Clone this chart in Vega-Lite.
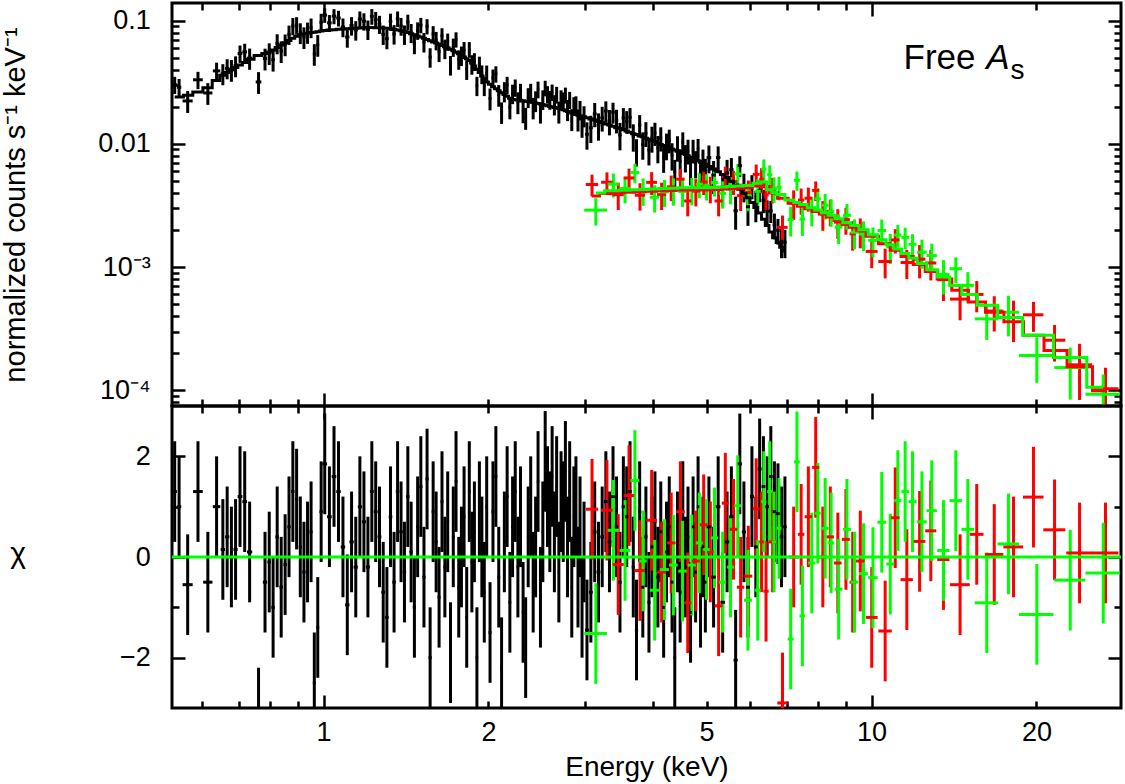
{
  "$schema": "https://vega.github.io/schema/vega-lite/v6.json",
  "background": "white",
  "padding": {"left": 0, "top": 0, "right": 0, "bottom": 0},
  "bounds": "flush",
  "spacing": 0,
  "config": {
    "view": {"stroke": "#000000", "strokeWidth": 3},
    "font": "Liberation Sans",
    "axis": {
      "labelFont": "Liberation Sans", "titleFont": "Liberation Sans",
      "labelColor": "#000000", "titleColor": "#000000", "titleFontWeight": "normal",
      "grid": false, "domain": false, "tickColor": "#000000", "tickWidth": 2.5,
      "labelOverlap": false, "labelFlush": false
    }
  },
  "datasets": {
    "spec": [
      {"s":"pn","e":0.535,"w":0.005,"m":0.024,"r":0.0302,"d":0.0048,"c":1.3},
      {"s":"pn","e":0.545,"w":0.005,"m":0.024,"r":0.0288,"d":0.0048,"c":1.0},
      {"s":"pn","e":0.565,"w":0.012,"m":0.0248,"r":0.0223,"d":0.0045,"c":-0.55},
      {"s":"pn","e":0.59,"w":0.012,"m":0.0263,"r":0.0331,"d":0.0053,"c":1.3},
      {"s":"pn","e":0.615,"w":0.012,"m":0.0285,"r":0.0259,"d":0.0052,"c":-0.5},
      {"s":"pn","e":0.638,"w":0.01,"m":0.0326,"r":0.0391,"d":0.0065,"c":1.0},
      {"s":"pn","e":0.655,"w":0.006,"m":0.036,"r":0.0371,"d":0.0072,"c":0.15},
      {"s":"pn","e":0.667,"w":0.006,"m":0.038,"r":0.041,"d":0.0076,"c":0.4},
      {"s":"pn","e":0.679,"w":0.006,"m":0.0399,"r":0.0399,"d":0.008,"c":0.0},
      {"s":"pn","e":0.691,"w":0.006,"m":0.0417,"r":0.043,"d":0.0083,"c":0.15},
      {"s":"pn","e":0.704,"w":0.007,"m":0.0436,"r":0.0541,"d":0.0087,"c":1.2},
      {"s":"pn","e":0.718,"w":0.007,"m":0.0457,"r":0.0558,"d":0.0091,"c":1.1},
      {"s":"pn","e":0.733,"w":0.008,"m":0.0486,"r":0.0496,"d":0.0097,"c":0.1},
      {"s":"pn","e":0.761,"w":0.009,"m":0.0521,"r":0.0318,"d":0.0064,"c":-3.2},
      {"s":"pn","e":0.782,"w":0.007,"m":0.0542,"r":0.0493,"d":0.0099,"c":-0.5},
      {"s":"pn","e":0.796,"w":0.006,"m":0.0556,"r":0.0545,"d":0.0109,"c":-0.1},
      {"s":"pn","e":0.809,"w":0.006,"m":0.0578,"r":0.0482,"d":0.0096,"c":-1.0},
      {"s":"pn","e":0.823,"w":0.006,"m":0.0606,"r":0.0654,"d":0.0121,"c":0.4},
      {"s":"pn","e":0.837,"w":0.006,"m":0.0634,"r":0.0566,"d":0.0113,"c":-0.6},
      {"s":"pn","e":0.851,"w":0.006,"m":0.0662,"r":0.0643,"d":0.0129,"c":-0.15},
      {"s":"pn","e":0.865,"w":0.006,"m":0.069,"r":0.0773,"d":0.0138,"c":0.6},
      {"s":"pn","e":0.879,"w":0.006,"m":0.0718,"r":0.0905,"d":0.0144,"c":1.3},
      {"s":"pn","e":0.893,"w":0.006,"m":0.0746,"r":0.0918,"d":0.0149,"c":1.15},
      {"s":"pn","e":0.907,"w":0.006,"m":0.0767,"r":0.0798,"d":0.0153,"c":0.2},
      {"s":"pn","e":0.921,"w":0.006,"m":0.0779,"r":0.0735,"d":0.0147,"c":-0.3},
      {"s":"pn","e":0.935,"w":0.006,"m":0.079,"r":0.0806,"d":0.0158,"c":0.1},
      {"s":"pn","e":0.949,"w":0.006,"m":0.08,"r":0.088,"d":0.016,"c":0.5},
      {"s":"pn","e":0.962,"w":0.006,"m":0.0806,"r":0.0537,"d":0.0107,"c":-2.5},
      {"s":"pn","e":0.976,"w":0.006,"m":0.0814,"r":0.0636,"d":0.0127,"c":-1.4},
      {"s":"pn","e":0.99,"w":0.007,"m":0.0823,"r":0.0971,"d":0.0165,"c":0.9},
      {"s":"pn","e":1.005,"w":0.01,"m":0.0832,"r":0.1109,"d":0.015,"c":1.85},
      {"s":"pn","e":1.025,"w":0.01,"m":0.0838,"r":0.0959,"d":0.0151,"c":0.8},
      {"s":"pn","e":1.045,"w":0.01,"m":0.0844,"r":0.1087,"d":0.0152,"c":1.6},
      {"s":"pn","e":1.065,"w":0.01,"m":0.085,"r":0.1049,"d":0.0153,"c":1.3},
      {"s":"pn","e":1.085,"w":0.01,"m":0.0856,"r":0.0887,"d":0.0154,"c":0.2},
      {"s":"pn","e":1.105,"w":0.01,"m":0.0861,"r":0.0735,"d":0.0132,"c":-0.95},
      {"s":"pn","e":1.125,"w":0.01,"m":0.0865,"r":0.0912,"d":0.0156,"c":0.3},
      {"s":"pn","e":1.145,"w":0.01,"m":0.0869,"r":0.0839,"d":0.0151,"c":-0.2},
      {"s":"pn","e":1.165,"w":0.01,"m":0.0873,"r":0.103,"d":0.0157,"c":1.0},
      {"s":"pn","e":1.185,"w":0.01,"m":0.0877,"r":0.0988,"d":0.0158,"c":0.7},
      {"s":"pn","e":1.205,"w":0.01,"m":0.088,"r":0.0849,"d":0.0153,"c":-0.2},
      {"s":"pn","e":1.225,"w":0.01,"m":0.0878,"r":0.1083,"d":0.0158,"c":1.3},
      {"s":"pn","e":1.245,"w":0.01,"m":0.0876,"r":0.1018,"d":0.0158,"c":0.9},
      {"s":"pn","e":1.265,"w":0.01,"m":0.0874,"r":0.0937,"d":0.0157,"c":0.4},
      {"s":"pn","e":1.285,"w":0.01,"m":0.0872,"r":0.0774,"d":0.0139,"c":-0.7},
      {"s":"pn","e":1.305,"w":0.01,"m":0.0869,"r":0.0715,"d":0.0129,"c":-1.2},
      {"s":"pn","e":1.325,"w":0.01,"m":0.0859,"r":0.0983,"d":0.0155,"c":0.8},
      {"s":"pn","e":1.345,"w":0.01,"m":0.0849,"r":0.0779,"d":0.014,"c":-0.5},
      {"s":"pn","e":1.365,"w":0.01,"m":0.0839,"r":0.1035,"d":0.0151,"c":1.3},
      {"s":"pn","e":1.385,"w":0.01,"m":0.0828,"r":0.0903,"d":0.0149,"c":0.5},
      {"s":"pn","e":1.405,"w":0.01,"m":0.0816,"r":0.0774,"d":0.0139,"c":-0.3},
      {"s":"pn","e":1.425,"w":0.01,"m":0.08,"r":0.0973,"d":0.0144,"c":1.2},
      {"s":"pn","e":1.445,"w":0.01,"m":0.0784,"r":0.0798,"d":0.0141,"c":0.1},
      {"s":"pn","e":1.465,"w":0.01,"m":0.0768,"r":0.0651,"d":0.0117,"c":-1.0},
      {"s":"pn","e":1.485,"w":0.01,"m":0.0752,"r":0.0833,"d":0.0135,"c":0.6},
      {"s":"pn","e":1.505,"w":0.01,"m":0.0736,"r":0.0921,"d":0.0132,"c":1.4},
      {"s":"pn","e":1.525,"w":0.01,"m":0.072,"r":0.0672,"d":0.0121,"c":-0.4},
      {"s":"pn","e":1.545,"w":0.01,"m":0.0704,"r":0.09,"d":0.0127,"c":1.55},
      {"s":"pn","e":1.565,"w":0.01,"m":0.0688,"r":0.0506,"d":0.0091,"c":-2.0},
      {"s":"pn","e":1.585,"w":0.01,"m":0.0672,"r":0.0781,"d":0.0121,"c":0.9},
      {"s":"pn","e":1.605,"w":0.01,"m":0.0657,"r":0.0692,"d":0.0118,"c":0.3},
      {"s":"pn","e":1.625,"w":0.01,"m":0.0643,"r":0.0562,"d":0.0101,"c":-0.8},
      {"s":"pn","e":1.645,"w":0.01,"m":0.0629,"r":0.0754,"d":0.0113,"c":1.1},
      {"s":"pn","e":1.665,"w":0.01,"m":0.0615,"r":0.0594,"d":0.0107,"c":-0.2},
      {"s":"pn","e":1.685,"w":0.01,"m":0.0601,"r":0.0677,"d":0.0108,"c":0.7},
      {"s":"pn","e":1.705,"w":0.01,"m":0.0586,"r":0.0437,"d":0.0079,"c":-1.9},
      {"s":"pn","e":1.725,"w":0.01,"m":0.057,"r":0.0611,"d":0.0103,"c":0.4},
      {"s":"pn","e":1.745,"w":0.01,"m":0.0554,"r":0.0704,"d":0.01,"c":1.5},
      {"s":"pn","e":1.765,"w":0.01,"m":0.0538,"r":0.0486,"d":0.0087,"c":-0.6},
      {"s":"pn","e":1.785,"w":0.01,"m":0.0522,"r":0.0522,"d":0.0094,"c":0.0},
      {"s":"pn","e":1.805,"w":0.01,"m":0.0506,"r":0.0579,"d":0.0091,"c":0.8},
      {"s":"pn","e":1.825,"w":0.01,"m":0.049,"r":0.0403,"d":0.0073,"c":-1.2},
      {"s":"pn","e":1.845,"w":0.01,"m":0.0474,"r":0.0585,"d":0.0085,"c":1.3},
      {"s":"pn","e":1.865,"w":0.01,"m":0.0452,"r":0.0444,"d":0.008,"c":-0.1},
      {"s":"pn","e":1.885,"w":0.01,"m":0.0428,"r":0.0467,"d":0.0077,"c":0.5},
      {"s":"pn","e":1.905,"w":0.01,"m":0.0404,"r":0.0297,"d":0.0053,"c":-2.0},
      {"s":"pn","e":1.925,"w":0.01,"m":0.038,"r":0.0442,"d":0.0068,"c":0.9},
      {"s":"pn","e":1.945,"w":0.01,"m":0.0356,"r":0.0369,"d":0.0064,"c":0.2},
      {"s":"pn","e":1.965,"w":0.01,"m":0.0334,"r":0.0297,"d":0.0053,"c":-0.7},
      {"s":"pn","e":1.985,"w":0.01,"m":0.0318,"r":0.0375,"d":0.0057,"c":1.0},
      {"s":"pn","e":2.013,"w":0.0125,"m":0.0304,"r":0.0234,"d":0.0047,"c":-1.5},
      {"s":"pn","e":2.038,"w":0.0125,"m":0.0291,"r":0.0343,"d":0.0058,"c":0.9},
      {"s":"pn","e":2.063,"w":0.0125,"m":0.028,"r":0.037,"d":0.0056,"c":1.6},
      {"s":"pn","e":2.088,"w":0.0125,"m":0.027,"r":0.025,"d":0.005,"c":-0.4},
      {"s":"pn","e":2.113,"w":0.0125,"m":0.026,"r":0.0181,"d":0.0036,"c":-2.2},
      {"s":"pn","e":2.138,"w":0.0125,"m":0.0252,"r":0.0267,"d":0.005,"c":0.3},
      {"s":"pn","e":2.163,"w":0.0125,"m":0.0243,"r":0.0301,"d":0.0049,"c":1.2},
      {"s":"pn","e":2.188,"w":0.0125,"m":0.0234,"r":0.0198,"d":0.004,"c":-0.9},
      {"s":"pn","e":2.213,"w":0.0125,"m":0.0229,"r":0.0256,"d":0.0046,"c":0.6},
      {"s":"pn","e":2.238,"w":0.0125,"m":0.0228,"r":0.0287,"d":0.0046,"c":1.3},
      {"s":"pn","e":2.263,"w":0.0125,"m":0.0227,"r":0.0218,"d":0.0044,"c":-0.2},
      {"s":"pn","e":2.288,"w":0.0125,"m":0.0226,"r":0.0262,"d":0.0045,"c":0.8},
      {"s":"pn","e":2.313,"w":0.0125,"m":0.0224,"r":0.0184,"d":0.0037,"c":-1.1},
      {"s":"pn","e":2.338,"w":0.0125,"m":0.0222,"r":0.0163,"d":0.0033,"c":-1.8},
      {"s":"pn","e":2.363,"w":0.0125,"m":0.0221,"r":0.0239,"d":0.0044,"c":0.4},
      {"s":"pn","e":2.388,"w":0.0125,"m":0.0219,"r":0.0263,"d":0.0044,"c":1.0},
      {"s":"pn","e":2.413,"w":0.0125,"m":0.0217,"r":0.0197,"d":0.0039,"c":-0.5},
      {"s":"pn","e":2.438,"w":0.0125,"m":0.0215,"r":0.0224,"d":0.0043,"c":0.2},
      {"s":"pn","e":2.463,"w":0.0125,"m":0.0213,"r":0.0277,"d":0.0043,"c":1.5},
      {"s":"pn","e":2.488,"w":0.0125,"m":0.0211,"r":0.0182,"d":0.0036,"c":-0.8},
      {"s":"pn","e":2.513,"w":0.0125,"m":0.0209,"r":0.023,"d":0.0042,"c":0.5},
      {"s":"pn","e":2.538,"w":0.0125,"m":0.0206,"r":0.0284,"d":0.0041,"c":1.9},
      {"s":"pn","e":2.563,"w":0.0125,"m":0.0204,"r":0.0253,"d":0.0041,"c":1.2},
      {"s":"pn","e":2.588,"w":0.0125,"m":0.0201,"r":0.0229,"d":0.004,"c":0.7},
      {"s":"pn","e":2.613,"w":0.0125,"m":0.0199,"r":0.0263,"d":0.004,"c":1.6},
      {"s":"pn","e":2.638,"w":0.0125,"m":0.0197,"r":0.0209,"d":0.0039,"c":0.3},
      {"s":"pn","e":2.663,"w":0.0125,"m":0.0196,"r":0.0251,"d":0.0039,"c":1.4},
      {"s":"pn","e":2.688,"w":0.0125,"m":0.0194,"r":0.0183,"d":0.0037,"c":-0.3},
      {"s":"pn","e":2.713,"w":0.0125,"m":0.0192,"r":0.0234,"d":0.0038,"c":1.1},
      {"s":"pn","e":2.738,"w":0.0125,"m":0.0189,"r":0.0223,"d":0.0038,"c":0.9},
      {"s":"pn","e":2.763,"w":0.0125,"m":0.0186,"r":0.0249,"d":0.0037,"c":1.7},
      {"s":"pn","e":2.788,"w":0.0125,"m":0.0183,"r":0.019,"d":0.0037,"c":0.2},
      {"s":"pn","e":2.813,"w":0.0125,"m":0.0181,"r":0.0228,"d":0.0036,"c":1.3},
      {"s":"pn","e":2.838,"w":0.0125,"m":0.0178,"r":0.0159,"d":0.0032,"c":-0.6},
      {"s":"pn","e":2.863,"w":0.0125,"m":0.0176,"r":0.0204,"d":0.0035,"c":0.8},
      {"s":"pn","e":2.888,"w":0.0125,"m":0.0173,"r":0.0208,"d":0.0035,"c":1.0},
      {"s":"pn","e":2.913,"w":0.0125,"m":0.0171,"r":0.0158,"d":0.0032,"c":-0.4},
      {"s":"pn","e":2.938,"w":0.0125,"m":0.0169,"r":0.0189,"d":0.0034,"c":0.6},
      {"s":"pn","e":2.963,"w":0.0125,"m":0.0168,"r":0.014,"d":0.0028,"c":-1.0},
      {"s":"pn","e":2.988,"w":0.0125,"m":0.0166,"r":0.0169,"d":0.0033,"c":0.1},
      {"s":"pn","e":3.025,"w":0.025,"m":0.0163,"r":0.01196,"d":0.00299,"c":-1.45},
      {"s":"pn","e":3.075,"w":0.025,"m":0.0159,"r":0.01353,"d":0.00338,"c":-0.7},
      {"s":"pn","e":3.125,"w":0.025,"m":0.0156,"r":0.01755,"d":0.0039,"c":0.5},
      {"s":"pn","e":3.175,"w":0.025,"m":0.0152,"r":0.01414,"d":0.00353,"c":-0.3},
      {"s":"pn","e":3.225,"w":0.025,"m":0.0148,"r":0.01628,"d":0.0037,"c":0.4},
      {"s":"pn","e":3.275,"w":0.025,"m":0.0145,"r":0.01849,"d":0.00363,"c":1.1},
      {"s":"pn","e":3.325,"w":0.025,"m":0.0142,"r":0.01527,"d":0.00355,"c":0.3},
      {"s":"pn","e":3.375,"w":0.025,"m":0.0139,"r":0.01807,"d":0.00348,"c":1.2},
      {"s":"pn","e":3.425,"w":0.025,"m":0.0135,"r":0.01553,"d":0.00338,"c":0.6},
      {"s":"pn","e":3.475,"w":0.025,"m":0.0133,"r":0.01182,"d":0.00296,"c":-0.5},
      {"s":"pn","e":3.525,"w":0.025,"m":0.013,"r":0.01625,"d":0.00325,"c":1.0},
      {"s":"pn","e":3.575,"w":0.025,"m":0.0127,"r":0.01524,"d":0.00318,"c":0.8},
      {"s":"pn","e":3.625,"w":0.025,"m":0.0124,"r":0.01643,"d":0.0031,"c":1.3},
      {"s":"pn","e":3.675,"w":0.025,"m":0.0121,"r":0.01152,"d":0.00288,"c":-0.2},
      {"s":"pn","e":3.725,"w":0.025,"m":0.0119,"r":0.00873,"d":0.00218,"c":-1.45},
      {"s":"pn","e":3.775,"w":0.025,"m":0.0116,"r":0.01421,"d":0.0029,"c":0.9},
      {"s":"pn","e":3.825,"w":0.025,"m":0.0114,"r":0.00991,"d":0.00248,"c":-0.6},
      {"s":"pn","e":3.875,"w":0.025,"m":0.0111,"r":0.01221,"d":0.00278,"c":0.4},
      {"s":"pn","e":3.925,"w":0.025,"m":0.0109,"r":0.0089,"d":0.00222,"c":-0.9},
      {"s":"pn","e":3.975,"w":0.025,"m":0.0106,"r":0.01113,"d":0.00265,"c":0.2},
      {"s":"pn","e":4.025,"w":0.025,"m":0.0104,"r":0.01222,"d":0.0026,"c":0.7},
      {"s":"pn","e":4.075,"w":0.025,"m":0.0102,"r":0.00927,"d":0.00232,"c":-0.4},
      {"s":"pn","e":4.125,"w":0.025,"m":0.0099,"r":0.01114,"d":0.00248,"c":0.5},
      {"s":"pn","e":4.175,"w":0.025,"m":0.0097,"r":0.00776,"d":0.00194,"c":-1.0},
      {"s":"pn","e":4.225,"w":0.025,"m":0.0095,"r":0.00974,"d":0.00238,"c":0.1},
      {"s":"pn","e":4.275,"w":0.025,"m":0.0093,"r":0.0107,"d":0.00233,"c":0.6},
      {"s":"pn","e":4.325,"w":0.025,"m":0.0091,"r":0.00809,"d":0.00202,"c":-0.5},
      {"s":"pn","e":4.375,"w":0.025,"m":0.0089,"r":0.00593,"d":0.00148,"c":-2.0},
      {"s":"pn","e":4.425,"w":0.025,"m":0.0087,"r":0.00935,"d":0.00218,"c":0.3},
      {"s":"pn","e":4.475,"w":0.025,"m":0.0085,"r":0.00723,"d":0.00181,"c":-0.7},
      {"s":"pn","e":4.525,"w":0.025,"m":0.0084,"r":0.01029,"d":0.0021,"c":0.9},
      {"s":"pn","e":4.575,"w":0.025,"m":0.0082,"r":0.00781,"d":0.00195,"c":-0.2},
      {"s":"pn","e":4.625,"w":0.025,"m":0.008,"r":0.0088,"d":0.002,"c":0.4},
      {"s":"pn","e":4.675,"w":0.025,"m":0.0078,"r":0.00612,"d":0.00153,"c":-1.1},
      {"s":"pn","e":4.725,"w":0.025,"m":0.0077,"r":0.00886,"d":0.00193,"c":0.6},
      {"s":"pn","e":4.775,"w":0.025,"m":0.0075,"r":0.00698,"d":0.00174,"c":-0.3},
      {"s":"pn","e":4.825,"w":0.025,"m":0.0073,"r":0.00913,"d":0.00183,"c":1.0},
      {"s":"pn","e":4.875,"w":0.025,"m":0.0071,"r":0.00592,"d":0.00148,"c":-0.8},
      {"s":"pn","e":4.925,"w":0.025,"m":0.0069,"r":0.00725,"d":0.00173,"c":0.2},
      {"s":"pn","e":4.975,"w":0.025,"m":0.0068,"r":0.00604,"d":0.00151,"c":-0.5},
      {"s":"pn","e":5.05,"w":0.05,"m":0.00655,"r":0.00773,"d":0.00197,"c":0.6},
      {"s":"pn","e":5.15,"w":0.05,"m":0.00625,"r":0.00558,"d":0.00167,"c":-0.4},
      {"s":"pn","e":5.25,"w":0.05,"m":0.00595,"r":0.00774,"d":0.00179,"c":1.0},
      {"s":"pn","e":5.35,"w":0.05,"m":0.00565,"r":0.00445,"d":0.00134,"c":-0.9},
      {"s":"pn","e":5.45,"w":0.05,"m":0.00533,"r":0.00581,"d":0.0016,"c":0.3},
      {"s":"pn","e":5.55,"w":0.05,"m":0.00498,"r":0.00618,"d":0.00149,"c":0.8},
      {"s":"pn","e":5.65,"w":0.05,"m":0.00463,"r":0.00287,"d":0.00086,"c":-2.05},
      {"s":"pn","e":5.75,"w":0.05,"m":0.00428,"r":0.00666,"d":0.00128,"c":1.85},
      {"s":"pn","e":5.85,"w":0.05,"m":0.00395,"r":0.00454,"d":0.00119,"c":0.5},
      {"s":"pn","e":5.95,"w":0.05,"m":0.00365,"r":0.00309,"d":0.00093,"c":-0.6},
      {"s":"pn","e":6.05,"w":0.05,"m":0.00335,"r":0.00456,"d":0.00101,"c":1.2},
      {"s":"pn","e":6.15,"w":0.05,"m":0.00305,"r":0.00323,"d":0.00092,"c":0.2},
      {"s":"pn","e":6.25,"w":0.05,"m":0.00275,"r":0.00419,"d":0.00083,"c":1.75},
      {"s":"pn","e":6.35,"w":0.05,"m":0.00245,"r":0.00348,"d":0.00074,"c":1.4},
      {"s":"pn","e":6.45,"w":0.05,"m":0.00218,"r":0.00283,"d":0.00065,"c":1.0},
      {"s":"pn","e":6.55,"w":0.05,"m":0.00193,"r":0.00286,"d":0.00058,"c":1.6},
      {"s":"pn","e":6.65,"w":0.05,"m":0.00173,"r":0.0022,"d":0.00052,"c":0.9},
      {"s":"pn","e":6.75,"w":0.05,"m":0.00158,"r":0.00199,"d":0.00047,"c":0.86},
      {"s":"pn","e":6.85,"w":0.05,"m":0.00145,"r":0.00162,"d":0.00044,"c":0.4},
      {"s":"pn","e":6.95,"w":0.05,"m":0.00135,"r":0.00159,"d":0.00041,"c":0.6},
      {"s":"A","e":3.09,"w":0.08,"m":0.00378,"r":0.00468,"d":0.000945,"c":0.95},
      {"s":"A","e":3.29,"w":0.08,"m":0.00396,"r":0.00488,"d":0.00099,"c":0.93},
      {"s":"A","e":3.45,"w":0.08,"m":0.00402,"r":0.00387,"d":0.00097,"c":-0.15},
      {"s":"A","e":3.61,"w":0.08,"m":0.00405,"r":0.00529,"d":0.00101,"c":1.22},
      {"s":"A","e":3.78,"w":0.08,"m":0.00409,"r":0.00383,"d":0.00096,"c":-0.27},
      {"s":"A","e":3.97,"w":0.09,"m":0.00412,"r":0.00487,"d":0.00103,"c":0.73},
      {"s":"A","e":4.14,"w":0.08,"m":0.00416,"r":0.00387,"d":0.00097,"c":-0.3},
      {"s":"A","e":4.31,"w":0.08,"m":0.00419,"r":0.00448,"d":0.00105,"c":0.28},
      {"s":"A","e":4.48,"w":0.08,"m":0.00422,"r":0.00517,"d":0.00106,"c":0.9},
      {"s":"A","e":4.62,"w":0.07,"m":0.00422,"r":0.00344,"d":0.00086,"c":-0.91},
      {"s":"A","e":4.78,"w":0.08,"m":0.00422,"r":0.00414,"d":0.00103,"c":-0.08},
      {"s":"A","e":4.94,"w":0.08,"m":0.00422,"r":0.0049,"d":0.00106,"c":0.64},
      {"s":"A","e":5.08,"w":0.07,"m":0.00424,"r":0.00435,"d":0.00106,"c":0.1},
      {"s":"A","e":5.26,"w":0.09,"m":0.00427,"r":0.00344,"d":0.00086,"c":-0.97},
      {"s":"A","e":5.41,"w":0.08,"m":0.0043,"r":0.00545,"d":0.00108,"c":1.07},
      {"s":"A","e":5.6,"w":0.09,"m":0.00434,"r":0.00494,"d":0.00109,"c":0.55},
      {"s":"A","e":5.77,"w":0.09,"m":0.00437,"r":0.0038,"d":0.00095,"c":-0.6},
      {"s":"A","e":5.96,"w":0.1,"m":0.00441,"r":0.00403,"d":0.00101,"c":-0.38},
      {"s":"A","e":6.16,"w":0.09,"m":0.00456,"r":0.00565,"d":0.00114,"c":0.96},
      {"s":"A","e":6.3,"w":0.06,"m":0.0048,"r":0.00516,"d":0.0012,"c":0.3},
      {"s":"A","e":6.42,"w":0.07,"m":0.00451,"r":0.00385,"d":0.00096,"c":-0.68},
      {"s":"A","e":6.6,"w":0.11,"m":0.00399,"r":0.00429,"d":0.001,"c":0.3},
      {"s":"A","e":6.88,"w":0.15,"m":0.00362,"r":0.0021,"d":0.00052,"c":-2.9},
      {"s":"A","e":7.21,"w":0.15,"m":0.0033,"r":0.0033,"d":0.00089,"c":0.0},
      {"s":"A","e":7.44,"w":0.1,"m":0.00312,"r":0.0035,"d":0.00084,"c":0.45},
      {"s":"A","e":7.67,"w":0.12,"m":0.00298,"r":0.00362,"d":0.0008,"c":0.8},
      {"s":"A","e":7.91,"w":0.12,"m":0.00283,"r":0.00419,"d":0.00076,"c":1.78},
      {"s":"A","e":8.15,"w":0.12,"m":0.0027,"r":0.0027,"d":0.00073,"c":0.0},
      {"s":"A","e":8.41,"w":0.13,"m":0.00255,"r":0.00283,"d":0.00069,"c":0.4},
      {"s":"A","e":8.68,"w":0.14,"m":0.00239,"r":0.00232,"d":0.00063,"c":-0.12},
      {"s":"A","e":8.98,"w":0.15,"m":0.00222,"r":0.00243,"d":0.0006,"c":0.35},
      {"s":"A","e":9.24,"w":0.12,"m":0.00211,"r":0.00186,"d":0.0005,"c":-0.5},
      {"s":"A","e":9.54,"w":0.17,"m":0.00199,"r":0.00195,"d":0.00053,"c":-0.08},
      {"s":"A","e":10.01,"w":0.25,"m":0.00178,"r":0.00134,"d":0.00036,"c":-1.2},
      {"s":"A","e":10.59,"w":0.3,"m":0.00155,"r":0.00111,"d":0.0003,"c":-1.47},
      {"s":"A","e":11.05,"w":0.2,"m":0.00137,"r":0.00166,"d":0.00037,"c":0.78},
      {"s":"A","e":11.6,"w":0.3,"m":0.00122,"r":0.00109,"d":0.00029,"c":-0.45},
      {"s":"A","e":12.24,"w":0.3,"m":0.00105,"r":0.00116,"d":0.00035,"c":0.31},
      {"s":"A","e":12.83,"w":0.3,"m":0.00092,"r":0.00108,"d":0.0003,"c":0.52},
      {"s":"A","e":13.53,"w":0.35,"m":0.0008,"r":0.00079,"d":0.00026,"c":-0.05},
      {"s":"A","e":14.51,"w":0.6,"m":0.00065,"r":0.00055,"d":0.00018,"c":-0.55},
      {"s":"A","e":15.56,"w":0.45,"m":0.00052,"r":0.0006,"d":0.00017,"c":0.45},
      {"s":"A","e":16.75,"w":0.65,"m":0.00043,"r":0.00044,"d":0.00014,"c":0.05},
      {"s":"A","e":18.16,"w":0.75,"m":0.00036,"r":0.00039,"d":0.000144,"c":0.2},
      {"s":"A","e":19.75,"w":0.85,"m":0.00028,"r":0.00041,"d":0.000112,"c":1.19},
      {"s":"A","e":21.58,"w":1.0,"m":0.00021,"r":0.000255,"d":0.000084,"c":0.54},
      {"s":"A","e":23.97,"w":1.3,"m":0.000155,"r":0.000161,"d":0.0000775,"c":0.08},
      {"s":"A","e":26.73,"w":1.5,"m":0.000099,"r":0.000103,"d":0.0000495,"c":0.08},
      {"s":"B","e":3.14,"w":0.15,"m":0.004,"r":0.0029,"d":0.000725,"c":-1.52},
      {"s":"B","e":3.38,"w":0.08,"m":0.00416,"r":0.00471,"d":0.00104,"c":0.53},
      {"s":"B","e":3.55,"w":0.08,"m":0.0042,"r":0.00434,"d":0.00105,"c":0.13},
      {"s":"B","e":3.7,"w":0.07,"m":0.00424,"r":0.00585,"d":0.00106,"c":1.52},
      {"s":"B","e":3.83,"w":0.06,"m":0.00427,"r":0.00419,"d":0.00105,"c":-0.08},
      {"s":"B","e":4.02,"w":0.08,"m":0.0043,"r":0.00369,"d":0.00092,"c":-0.66},
      {"s":"B","e":4.19,"w":0.08,"m":0.00434,"r":0.00408,"d":0.00102,"c":-0.25},
      {"s":"B","e":4.35,"w":0.08,"m":0.00437,"r":0.0042,"d":0.00105,"c":-0.16},
      {"s":"B","e":4.52,"w":0.08,"m":0.0044,"r":0.00411,"d":0.00103,"c":-0.28},
      {"s":"B","e":4.7,"w":0.08,"m":0.0044,"r":0.00423,"d":0.00106,"c":-0.16},
      {"s":"B","e":4.85,"w":0.07,"m":0.0044,"r":0.00471,"d":0.0011,"c":0.28},
      {"s":"B","e":5.0,"w":0.07,"m":0.0044,"r":0.00457,"d":0.0011,"c":0.15},
      {"s":"B","e":5.17,"w":0.08,"m":0.00443,"r":0.00485,"d":0.00111,"c":0.38},
      {"s":"B","e":5.35,"w":0.08,"m":0.00447,"r":0.00397,"d":0.00099,"c":-0.5},
      {"s":"B","e":5.53,"w":0.08,"m":0.00451,"r":0.0043,"d":0.00107,"c":-0.2},
      {"s":"B","e":5.7,"w":0.08,"m":0.00454,"r":0.0057,"d":0.00114,"c":1.02},
      {"s":"B","e":5.95,"w":0.1,"m":0.00459,"r":0.00378,"d":0.00094,"c":-0.86},
      {"s":"B","e":6.2,"w":0.08,"m":0.0048,"r":0.00412,"d":0.00103,"c":-0.66},
      {"s":"B","e":6.36,"w":0.07,"m":0.0049,"r":0.00625,"d":0.00123,"c":1.1},
      {"s":"B","e":6.52,"w":0.07,"m":0.00425,"r":0.00563,"d":0.00106,"c":1.3},
      {"s":"B","e":6.64,"w":0.06,"m":0.00403,"r":0.00433,"d":0.00101,"c":0.3},
      {"s":"B","e":6.78,"w":0.07,"m":0.00389,"r":0.00444,"d":0.00097,"c":0.57},
      {"s":"B","e":7.12,"w":0.09,"m":0.0035,"r":0.00243,"d":0.00066,"c":-1.63},
      {"s":"B","e":7.31,"w":0.09,"m":0.00335,"r":0.00506,"d":0.0009,"c":1.89},
      {"s":"B","e":7.48,"w":0.09,"m":0.00322,"r":0.00245,"d":0.00066,"c":-1.17},
      {"s":"B","e":7.78,"w":0.12,"m":0.00303,"r":0.00293,"d":0.00079,"c":-0.12},
      {"s":"B","e":7.98,"w":0.1,"m":0.00291,"r":0.00359,"d":0.00079,"c":0.87},
      {"s":"B","e":8.23,"w":0.12,"m":0.00276,"r":0.00318,"d":0.00075,"c":0.57},
      {"s":"B","e":8.44,"w":0.11,"m":0.00264,"r":0.00284,"d":0.00071,"c":0.28},
      {"s":"B","e":8.71,"w":0.14,"m":0.00247,"r":0.00211,"d":0.00057,"c":-0.64},
      {"s":"B","e":9.02,"w":0.15,"m":0.00229,"r":0.00263,"d":0.00062,"c":0.55},
      {"s":"B","e":9.31,"w":0.15,"m":0.00218,"r":0.00192,"d":0.00052,"c":-0.5},
      {"s":"B","e":9.67,"w":0.18,"m":0.00201,"r":0.00185,"d":0.0005,"c":-0.33},
      {"s":"B","e":10.06,"w":0.2,"m":0.00183,"r":0.00165,"d":0.00045,"c":-0.41},
      {"s":"B","e":10.44,"w":0.19,"m":0.00167,"r":0.00198,"d":0.00045,"c":0.69},
      {"s":"B","e":10.82,"w":0.18,"m":0.00152,"r":0.00146,"d":0.0004,"c":-0.14},
      {"s":"B","e":11.17,"w":0.17,"m":0.0014,"r":0.00182,"d":0.00038,"c":1.12},
      {"s":"B","e":11.52,"w":0.18,"m":0.00129,"r":0.00174,"d":0.00035,"c":1.3},
      {"s":"B","e":11.88,"w":0.2,"m":0.00118,"r":0.00153,"d":0.00032,"c":1.1},
      {"s":"B","e":12.36,"w":0.25,"m":0.00107,"r":0.00132,"d":0.00035,"c":0.7},
      {"s":"B","e":12.88,"w":0.28,"m":0.00095,"r":0.00124,"d":0.00031,"c":0.92},
      {"s":"B","e":13.53,"w":0.35,"m":0.00083,"r":0.00087,"d":0.00027,"c":0.13},
      {"s":"B","e":14.25,"w":0.37,"m":0.00071,"r":0.00097,"d":0.00023,"c":1.12},
      {"s":"B","e":14.99,"w":0.4,"m":0.0006,"r":0.00071,"d":0.0002,"c":0.55},
      {"s":"B","e":16.23,"w":0.8,"m":0.00049,"r":0.00038,"d":0.000124,"c":-0.91},
      {"s":"B","e":17.78,"w":0.8,"m":0.00039,"r":0.00043,"d":0.000156,"c":0.26},
      {"s":"B","e":20.03,"w":1.45,"m":0.00028,"r":0.000192,"d":0.000077,"c":-1.14},
      {"s":"B","e":23.05,"w":1.5,"m":0.000185,"r":0.000153,"d":0.000069,"c":-0.46},
      {"s":"B","e":26.48,"w":1.9,"m":0.000106,"r":0.0000927,"d":0.0000417,"c":-0.32}
    ]
  },
  "vconcat": [
    {
      "width": 949,
      "height": 403,
      "data": {"name": "spec"},
      "resolve": {"axis": {"x": "independent", "y": "independent"}},
      "layer": [
        {
          "data": {"values": [{"e": 1, "v": 0.01}]},
          "mark": {"type": "point", "opacity": 0},
          "encoding": {
            "x": {"field": "e", "type": "quantitative", "scale": {"type": "log", "domain": [0.529, 28.53], "nice": false},
                  "axis": {"orient": "bottom", "values": [1, 10], "tickSize": -13, "labels": false, "title": null}},
            "y": {"field": "v", "type": "quantitative", "scale": {"type": "log", "domain": [0.0000746, 0.139], "nice": false},
                  "axis": {"orient": "left", "values": [0.0001, 0.001, 0.01, 0.1], "tickSize": -13, "labels": false, "title": null}}
          }
        },
        {
          "data": {"values": [{"e": 1, "v": 0.01}]},
          "mark": {"type": "point", "opacity": 0},
          "encoding": {
            "x": {"field": "e", "type": "quantitative", "scale": {"type": "log", "domain": [0.529, 28.53], "nice": false},
                  "axis": {"orient": "bottom", "values": [0.6, 0.7, 0.8, 0.9, 2, 3, 4, 5, 6, 7, 8, 9, 20], "tickSize": -7, "labels": false, "title": null}},
            "y": {"field": "v", "type": "quantitative", "scale": {"type": "log", "domain": [0.0000746, 0.139], "nice": false},
                  "axis": {"orient": "left", "values": [0.00008, 0.00009, 0.0002, 0.0003, 0.0004, 0.0005, 0.0006, 0.0007, 0.0008, 0.0009, 0.002, 0.003, 0.004, 0.005, 0.006, 0.007, 0.008, 0.009, 0.02, 0.03, 0.04, 0.05, 0.06, 0.07, 0.08, 0.09], "tickSize": -7, "labels": false, "title": null}}
          }
        },
        {
          "data": {"values": [{"e": 1, "v": 0.01}]},
          "mark": {"type": "point", "opacity": 0},
          "encoding": {
            "x": {"field": "e", "type": "quantitative", "scale": {"type": "log", "domain": [0.529, 28.53], "nice": false},
                  "axis": {"orient": "top", "values": [1, 10], "tickSize": -13, "labels": false, "title": null}},
            "y": {"field": "v", "type": "quantitative", "scale": {"type": "log", "domain": [0.0000746, 0.139], "nice": false},
                  "axis": {"orient": "right", "values": [0.0001, 0.001, 0.01, 0.1], "tickSize": -13, "labels": false, "title": null}}
          }
        },
        {
          "data": {"values": [{"e": 1, "v": 0.01}]},
          "mark": {"type": "point", "opacity": 0},
          "encoding": {
            "x": {"field": "e", "type": "quantitative", "scale": {"type": "log", "domain": [0.529, 28.53], "nice": false},
                  "axis": {"orient": "top", "values": [0.6, 0.7, 0.8, 0.9, 2, 3, 4, 5, 6, 7, 8, 9, 20], "tickSize": -7, "labels": false, "title": null}},
            "y": {"field": "v", "type": "quantitative", "scale": {"type": "log", "domain": [0.0000746, 0.139], "nice": false},
                  "axis": {"orient": "right", "values": [0.00008, 0.00009, 0.0002, 0.0003, 0.0004, 0.0005, 0.0006, 0.0007, 0.0008, 0.0009, 0.002, 0.003, 0.004, 0.005, 0.006, 0.007, 0.008, 0.009, 0.02, 0.03, 0.04, 0.05, 0.06, 0.07, 0.08, 0.09], "tickSize": -7, "labels": false, "title": null}}
          }
        },
        {
          "data": {"values": [{"e": 1, "v": 0.01}]},
          "mark": {"type": "point", "opacity": 0},
          "encoding": {
            "x": {"field": "e", "type": "quantitative", "scale": {"type": "log", "domain": [0.529, 28.53], "nice": false}, "axis": null},
            "y": {"field": "v", "type": "quantitative", "scale": {"type": "log", "domain": [0.0000746, 0.139], "nice": false},
                  "axis": {"orient": "left", "values": [0.0001, 0.001, 0.01, 0.1], "ticks": false, "labels": true,
                           "labelFontSize": 27, "labelPadding": 21.8,
                           "labelExpr": "datum.value > 0.05 ? '0.1' : datum.value > 0.005 ? '0.01' : datum.value > 0.0005 ? '10⁻³' : '10⁻⁴'",
                           "title": "normalized counts s⁻¹ keV⁻¹", "titleFontSize": 29, "titleAngle": 270,
                           "titleBaseline": "middle", "titleAlign": "center", "titleX": -156.5}}
          }
        },
        {
          "mark": {"type": "errorbar", "thickness": 3, "clip": true},
          "encoding": {
            "x": {"field": "e", "type": "quantitative", "scale": {"type": "log", "domain": [0.529, 28.53], "nice": false}, "axis": null},
            "y": {"field": "r", "type": "quantitative", "scale": {"type": "log", "domain": [0.0000746, 0.139], "nice": false}, "axis": null},
            "yError": {"field": "d"},
            "color": {"field": "s", "type": "nominal", "scale": {"domain": ["pn", "A", "B"], "range": ["#000000", "#ff0000", "#00ff00"]}, "legend": null}
          }
        },
        {
          "mark": {"type": "errorbar", "thickness": 3, "clip": true},
          "encoding": {
            "x": {"field": "e", "type": "quantitative", "scale": {"type": "log", "domain": [0.529, 28.53], "nice": false}, "axis": null},
            "xError": {"field": "w"},
            "y": {"field": "r", "type": "quantitative", "scale": {"type": "log", "domain": [0.0000746, 0.139], "nice": false}, "axis": null},
            "color": {"field": "s", "type": "nominal", "scale": {"domain": ["pn", "A", "B"], "range": ["#000000", "#ff0000", "#00ff00"]}, "legend": null}
          }
        },
        {
          "mark": {"type": "line", "interpolate": "step", "strokeWidth": 3, "clip": true},
          "encoding": {
            "x": {"field": "e", "type": "quantitative", "scale": {"type": "log", "domain": [0.529, 28.53], "nice": false}, "axis": null},
            "y": {"field": "m", "type": "quantitative", "scale": {"type": "log", "domain": [0.0000746, 0.139], "nice": false}, "axis": null},
            "color": {"field": "s", "type": "nominal", "scale": {"domain": ["pn", "A", "B"], "range": ["#000000", "#ff0000", "#00ff00"]}, "legend": null}
          }
        },
        {
          "data": {"values": [{}]},
          "mark": {"type": "text", "text": "Free", "fontSize": 35, "align": "left", "baseline": "alphabetic", "font": "Liberation Sans", "color": "#000000"},
          "encoding": {
            "x": {"datum": 11.44, "type": "quantitative", "scale": {"type": "log", "domain": [0.529, 28.53], "nice": false}, "axis": null},
            "y": {"datum": 0.0405, "type": "quantitative", "scale": {"type": "log", "domain": [0.0000746, 0.139], "nice": false}, "axis": null}
          }
        },
        {
          "data": {"values": [{}]},
          "mark": {"type": "text", "text": "A", "fontSize": 35, "fontStyle": "italic", "align": "left", "baseline": "alphabetic", "font": "Liberation Sans", "color": "#000000"},
          "encoding": {
            "x": {"datum": 16.2, "type": "quantitative", "scale": {"type": "log", "domain": [0.529, 28.53], "nice": false}, "axis": null},
            "y": {"datum": 0.0405, "type": "quantitative", "scale": {"type": "log", "domain": [0.0000746, 0.139], "nice": false}, "axis": null}
          }
        },
        {
          "data": {"values": [{}]},
          "mark": {"type": "text", "text": "s", "fontSize": 28, "align": "left", "baseline": "alphabetic", "font": "Liberation Sans", "color": "#000000"},
          "encoding": {
            "x": {"datum": 17.93, "type": "quantitative", "scale": {"type": "log", "domain": [0.529, 28.53], "nice": false}, "axis": null},
            "y": {"datum": 0.0337, "type": "quantitative", "scale": {"type": "log", "domain": [0.0000746, 0.139], "nice": false}, "axis": null}
          }
        }
      ]
    },
    {
      "width": 949,
      "height": 302,
      "data": {"name": "spec"},
      "resolve": {"axis": {"x": "independent", "y": "independent"}},
      "layer": [
        {
          "data": {"values": [{"e": 1, "v": 0}]},
          "mark": {"type": "point", "opacity": 0},
          "encoding": {
            "x": {"field": "e", "type": "quantitative", "scale": {"type": "log", "domain": [0.529, 28.53], "nice": false},
                  "axis": {"orient": "bottom", "values": [1, 10], "tickSize": -13, "labels": false, "title": null}},
            "y": {"field": "v", "type": "quantitative", "scale": {"domain": [-3, 3], "nice": false, "zero": false},
                  "axis": {"orient": "left", "values": [-2, 0, 2], "tickSize": -13, "labels": false, "title": null}}
          }
        },
        {
          "data": {"values": [{"e": 1, "v": 0}]},
          "mark": {"type": "point", "opacity": 0},
          "encoding": {
            "x": {"field": "e", "type": "quantitative", "scale": {"type": "log", "domain": [0.529, 28.53], "nice": false},
                  "axis": {"orient": "bottom", "values": [0.6, 0.7, 0.8, 0.9, 2, 3, 4, 5, 6, 7, 8, 9, 20], "tickSize": -7, "labels": false, "title": null}},
            "y": {"field": "v", "type": "quantitative", "scale": {"domain": [-3, 3], "nice": false, "zero": false},
                  "axis": {"orient": "left", "values": [-1, 1], "tickSize": -7, "labels": false, "title": null}}
          }
        },
        {
          "data": {"values": [{"e": 1, "v": 0}]},
          "mark": {"type": "point", "opacity": 0},
          "encoding": {
            "x": {"field": "e", "type": "quantitative", "scale": {"type": "log", "domain": [0.529, 28.53], "nice": false},
                  "axis": {"orient": "top", "values": [1, 10], "tickSize": -13, "labels": false, "title": null}},
            "y": {"field": "v", "type": "quantitative", "scale": {"domain": [-3, 3], "nice": false, "zero": false},
                  "axis": {"orient": "right", "values": [-2, 0, 2], "tickSize": -13, "labels": false, "title": null}}
          }
        },
        {
          "data": {"values": [{"e": 1, "v": 0}]},
          "mark": {"type": "point", "opacity": 0},
          "encoding": {
            "x": {"field": "e", "type": "quantitative", "scale": {"type": "log", "domain": [0.529, 28.53], "nice": false},
                  "axis": {"orient": "top", "values": [0.6, 0.7, 0.8, 0.9, 2, 3, 4, 5, 6, 7, 8, 9, 20], "tickSize": -7, "labels": false, "title": null}},
            "y": {"field": "v", "type": "quantitative", "scale": {"domain": [-3, 3], "nice": false, "zero": false},
                  "axis": {"orient": "right", "values": [-1, 1], "tickSize": -7, "labels": false, "title": null}}
          }
        },
        {
          "data": {"values": [{"e": 1, "v": 0}]},
          "mark": {"type": "point", "opacity": 0},
          "encoding": {
            "x": {"field": "e", "type": "quantitative", "scale": {"type": "log", "domain": [0.529, 28.53], "nice": false},
                  "axis": {"orient": "bottom", "values": [1, 2, 5, 10, 20], "ticks": false, "labels": true,
                           "labelFontSize": 27, "labelPadding": 32.6, "labelBaseline": "alphabetic",
                           "labelExpr": "format(datum.value, 'd')",
                           "title": "Energy (keV)", "titleFontSize": 28, "titleBaseline": "alphabetic", "titleY": 67.3}},
            "y": {"field": "v", "type": "quantitative", "scale": {"domain": [-3, 3], "nice": false, "zero": false},
                  "axis": {"orient": "left", "values": [-2, 0, 2], "ticks": false, "labels": true,
                           "labelFontSize": 27, "labelPadding": 21.8,
                           "labelExpr": "datum.value < 0 ? '−' + format(-datum.value, 'd') : format(datum.value, 'd')",
                           "title": "χ", "titleFontSize": 30, "titleAngle": 0, "titleBaseline": "middle", "titleAlign": "center",
                           "titleX": -154.5, "titleY": 147.6}}
          }
        },
        {
          "mark": {"type": "tick", "orient": "vertical", "size": 100.67, "thickness": 3, "opacity": 1, "clip": true},
          "encoding": {
            "x": {"field": "e", "type": "quantitative", "scale": {"type": "log", "domain": [0.529, 28.53], "nice": false}, "axis": null},
            "y": {"field": "c", "type": "quantitative", "scale": {"domain": [-3, 3], "nice": false, "zero": false}, "axis": null},
            "color": {"field": "s", "type": "nominal", "scale": {"domain": ["pn", "A", "B"], "range": ["#000000", "#ff0000", "#00ff00"]}, "legend": null}
          }
        },
        {
          "mark": {"type": "errorbar", "thickness": 3, "clip": true},
          "encoding": {
            "x": {"field": "e", "type": "quantitative", "scale": {"type": "log", "domain": [0.529, 28.53], "nice": false}, "axis": null},
            "xError": {"field": "w"},
            "y": {"field": "c", "type": "quantitative", "scale": {"domain": [-3, 3], "nice": false, "zero": false}, "axis": null},
            "color": {"field": "s", "type": "nominal", "scale": {"domain": ["pn", "A", "B"], "range": ["#000000", "#ff0000", "#00ff00"]}, "legend": null}
          }
        },
        {
          "data": {"values": [{}]},
          "mark": {"type": "rule", "color": "#00ff00", "strokeWidth": 3},
          "encoding": {
            "y": {"datum": 0, "type": "quantitative", "scale": {"domain": [-3, 3], "nice": false, "zero": false}, "axis": null}
          }
        }
      ]
    }
  ]
}
